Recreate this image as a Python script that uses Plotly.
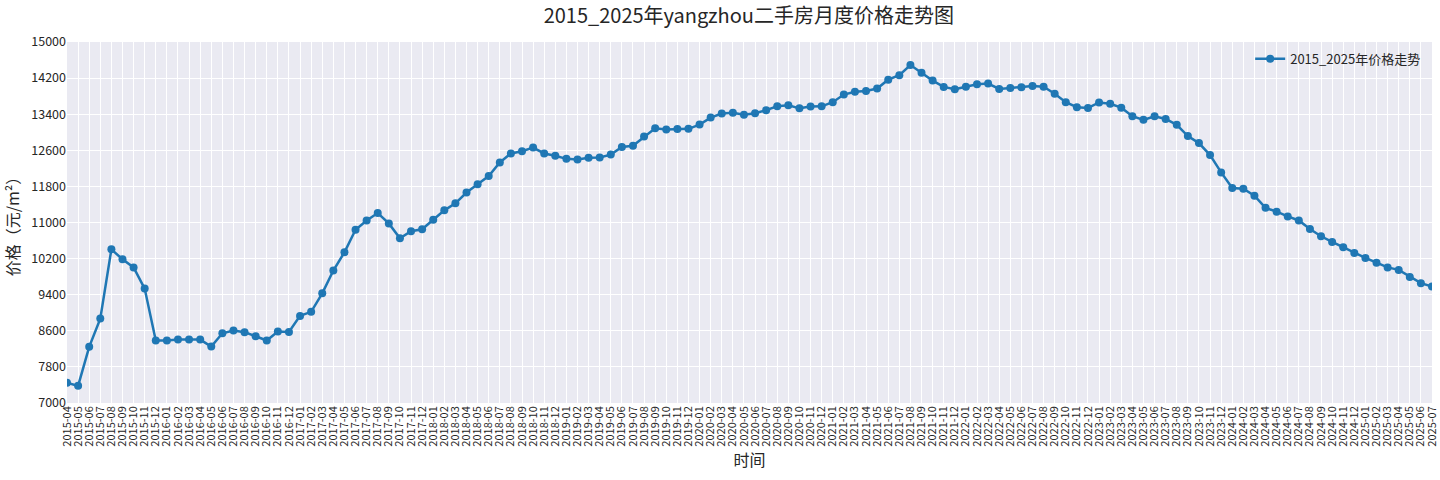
import pandas as pd
import plotly.graph_objects as go

# monthly labels 2015-04 .. 2025-07
months = [p.strftime('%Y-%m') for p in pd.period_range('2015-04', '2025-07', freq='M')]

# price per m2
prices = [
    7450, 7380, 8245, 8870, 10405, 10185, 10005, 9535, 8385,
    8385, 8405, 8405, 8405, 8250, 8545, 8605, 8570, 8480, 8385, 8585, 8575,
    8930, 9020, 9430, 9935, 10340, 10840, 11045, 11210, 10980, 10650, 10805, 10850,
    11060, 11270, 11425, 11665, 11850, 12030, 12330, 12530, 12580, 12660, 12530, 12480,
    12410, 12395, 12435, 12440, 12505, 12675, 12700, 12905, 13090, 13060, 13070, 13075,
    13170, 13325, 13415, 13430, 13390, 13420, 13490, 13575, 13600, 13530, 13570, 13575,
    13665, 13835, 13895, 13915, 13970, 14165, 14265, 14490, 14320, 14145, 14005, 13955,
    14010, 14065, 14080, 13960, 13980, 13995, 14025, 14010, 13855, 13665, 13555, 13540,
    13660, 13630, 13545, 13355, 13275, 13355, 13295, 13165, 12915, 12760, 12495, 12110,
    11765, 11750, 11595, 11325, 11240, 11135, 11045, 10855, 10695, 10570, 10450, 10325,
    10215, 10110, 10005, 9950, 9795, 9655, 9580,
]

y_ticks = list(range(7000, 15001, 800))

font = 'Noto Sans CJK SC'

fig = go.Figure()
fig.add_trace(go.Scatter(
    x=months, y=prices, mode='lines+markers',
    name='2015_2025年价格走势',
    line=dict(color='#1f77b4', width=2.5),
    marker=dict(color='#1f77b4', size=8),
))

fig.update_layout(
    width=1440, height=480,
    margin=dict(l=67, r=8, t=42, b=77),
    paper_bgcolor='white',
    plot_bgcolor='#EAEAF2',
    font=dict(family=font, color='#262626'),
    title=dict(text='2015_2025年yangzhou二手房月度价格走势图',
               x=0.52, xanchor='center', yref='container', y=1 - 16 / 480,
               yanchor='middle',
               font=dict(size=20, color='#262626')),
    showlegend=True,
    legend=dict(x=0.995, y=0.995, xanchor='right', yanchor='top',
                bgcolor='rgba(0,0,0,0)', font=dict(size=13)),
)

fig.update_xaxes(
    type='category', range=[0, len(months) - 1], automargin=False,
    tickmode='array', tickvals=months, ticktext=months,
    tickangle=-90, tickfont=dict(size=11),
    showgrid=True, gridcolor='white', gridwidth=1.2,
    zeroline=False, showline=False, ticks='',
    title=dict(text='时间', font=dict(size=16), standoff=9),
)
fig.update_yaxes(
    range=[7000, 15000], tickvals=y_ticks, ticktext=[str(v) for v in y_ticks],
    tickfont=dict(size=12.5), automargin=False,
    showgrid=True, gridcolor='white', gridwidth=1.2,
    zeroline=False, showline=False, ticks='',
    title=dict(text='价格（元/m²）', font=dict(size=16), standoff=9),
)

# page body has an 8px default margin, drop it so the figure sits at 0,0
fig.write_html('out.html', config={'displayModeBar': False},
               post_script="document.body.style.margin='0';")
